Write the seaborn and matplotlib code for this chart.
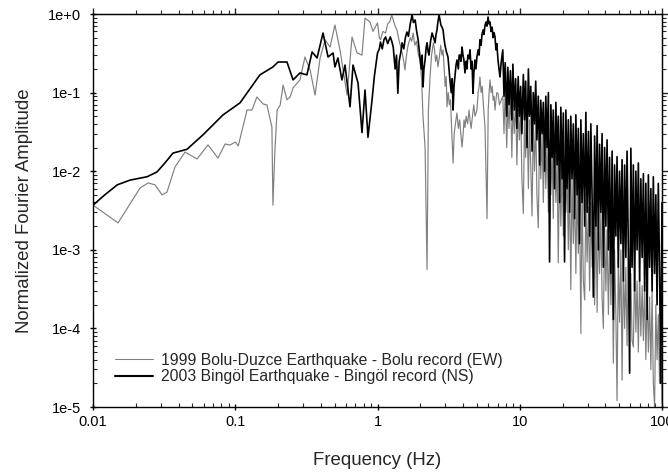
import numpy as np
import pandas as pd
import matplotlib
matplotlib.use("Agg")
import matplotlib.pyplot as plt
from matplotlib.lines import Line2D
from matplotlib.ticker import FixedLocator, FixedFormatter, LogLocator, NullFormatter
import seaborn as sns

bolu_label = "1999 Bolu-Duzce Earthquake - Bolu record (EW)"
bingol_label = "2003 Bingöl Earthquake - Bingöl record (NS)"

# Bolu (EW) below 0.9 Hz
bolu_f1 = [0.01, 0.015, 0.0214, 0.0244, 0.0273, 0.0306, 0.0331, 0.0377, 0.0444, 0.0539,
           0.0643, 0.0756, 0.0848, 0.0919, 0.1, 0.105, 0.121, 0.131, 0.142, 0.157,
           0.167, 0.181, 0.184, 0.19, 0.197, 0.207, 0.217, 0.231, 0.243, 0.255,
           0.285, 0.309, 0.336, 0.364, 0.395, 0.428, 0.464, 0.502, 0.545, 0.611,
           0.662, 0.718, 0.778, 0.817, 0.885]
bolu_a1 = [3.7e-3, 2.2e-3, 6.1e-3, 7.1e-3, 6.7e-3, 5.0e-3, 5.4e-3, 0.0113, 0.0175, 0.0143,
           0.0216, 0.0147, 0.0222, 0.0215, 0.0235, 0.021, 0.060, 0.060, 0.088, 0.0716,
           0.0696, 0.0365, 3.7e-3, 0.0186, 0.06, 0.0695, 0.125, 0.081, 0.088, 0.115,
           0.145, 0.284, 0.194, 0.093, 0.276, 0.47, 0.38, 0.725, 0.348, 0.093,
           0.51, 0.319, 0.30, 0.89, 0.79]
# Bolu (EW) 0.9 - 7.5 Hz
bolu_f2 = [0.93, 1.0, 1.03, 1.05, 1.09, 1.14, 1.18, 1.22, 1.26, 1.3,
           1.33, 1.37, 1.42, 1.46, 1.49, 1.53, 1.56, 1.6, 1.64, 1.7,
           1.74, 1.78, 1.83, 1.88, 1.94, 1.99, 2.04, 2.09, 2.16, 2.23,
           2.28, 2.34, 2.4, 2.47, 2.52, 2.56, 2.61, 2.66, 2.72, 2.78,
           2.84, 2.89, 2.94, 2.99, 3.04, 3.08, 3.14, 3.2, 3.26, 3.33,
           3.40, 3.46, 3.53, 3.62, 3.7, 3.78, 3.85, 3.93, 4.0, 4.06,
           4.12, 4.2, 4.3, 4.4, 4.47, 4.55, 4.65, 4.75, 4.85, 5.0,
           5.1, 5.18, 5.25, 5.35, 5.45, 5.55, 5.7, 5.89, 6.0, 6.09,
           6.18, 6.3, 6.4, 6.5, 6.6, 6.7, 6.8, 6.9, 7.03, 7.2,
           7.4]
bolu_a2 = [0.6, 0.77, 0.5, 0.47, 0.6, 0.573, 0.75, 0.8, 0.97, 0.8,
           0.7, 0.626, 0.45, 0.38, 0.319, 0.25, 0.194, 0.3, 0.40, 0.5,
           0.45, 0.573, 0.4, 0.45, 0.3, 0.26, 0.15, 0.049, 0.02, 5.6e-4,
           0.06, 0.158, 0.3, 0.43, 0.35, 0.25, 0.3, 0.212, 0.28, 0.4,
           0.3, 0.35, 0.2, 0.12, 0.16, 0.066, 0.1, 0.07, 0.081, 0.03,
           0.0127, 0.03, 0.04, 0.055, 0.035, 0.045, 0.03, 0.0203, 0.03, 0.045,
           0.036, 0.05, 0.04, 0.06, 0.045, 0.035, 0.05, 0.07, 0.05, 0.06,
           0.1, 0.12, 0.158, 0.1, 0.12, 0.07, 0.036, 2.5e-3, 0.06, 0.1,
           0.145, 0.1, 0.12, 0.08, 0.09, 0.06, 0.08, 0.1, 0.098, 0.07,
           0.08]

# Bingöl (NS) below 0.95 Hz
bingol_f1 = [0.01, 0.0121, 0.0148, 0.0182, 0.024, 0.0282, 0.032, 0.0365, 0.0458, 0.0593,
             0.082, 0.108, 0.149, 0.184, 0.2, 0.231, 0.255, 0.285, 0.319, 0.347,
             0.376, 0.414, 0.449, 0.487, 0.502, 0.527, 0.562, 0.591, 0.641, 0.673,
             0.73, 0.778, 0.817, 0.857, 0.915]
bingol_a1 = [3.7e-3, 5.0e-3, 6.7e-3, 7.7e-3, 8.5e-3, 9.8e-3, 0.0127, 0.017, 0.019, 0.029,
             0.052, 0.074, 0.168, 0.212, 0.245, 0.245, 0.145, 0.178, 0.168, 0.329,
             0.276, 0.573, 0.284, 0.319, 0.212, 0.276, 0.145, 0.224, 0.066, 0.224,
             0.132, 0.031, 0.108, 0.027, 0.08]
# Bingöl (NS) 0.95 - 7.5 Hz
bingol_f2 = [0.95, 1.0, 1.03, 1.05, 1.08, 1.11, 1.14, 1.18, 1.23, 1.26,
             1.29, 1.33, 1.36, 1.39, 1.42, 1.46, 1.49, 1.53, 1.57, 1.61,
             1.65, 1.70, 1.75, 1.79, 1.84, 1.88, 1.93, 1.96, 1.99, 2.03,
             2.06, 2.09, 2.12, 2.16, 2.2, 2.23, 2.27, 2.30, 2.36, 2.42,
             2.48, 2.54, 2.58, 2.62, 2.66, 2.71, 2.75, 2.79, 2.84, 2.89,
             2.93, 2.98, 3.05, 3.13, 3.18, 3.23, 3.3, 3.35, 3.40, 3.45,
             3.51, 3.56, 3.62, 3.7, 3.75, 3.80, 3.86, 3.93, 3.99, 4.05,
             4.12, 4.2, 4.25, 4.32, 4.4, 4.47, 4.55, 4.62, 4.69, 4.76,
             4.84, 4.92, 5.0, 5.1, 5.18, 5.25, 5.35, 5.43, 5.52, 5.6,
             5.7, 5.79, 5.88, 5.99, 6.08, 6.18, 6.28, 6.39, 6.5, 6.6,
             6.70, 6.8, 6.9, 7.03, 7.15, 7.26, 7.4]
bingol_a2 = [0.16, 0.319, 0.36, 0.44, 0.36, 0.47, 0.51, 0.42, 0.51, 0.45,
             0.38, 0.2, 0.3, 0.098, 0.25, 0.33, 0.43, 0.36, 0.5, 0.59,
             0.52, 0.75, 0.97, 0.78, 0.84, 0.62, 0.47, 0.36, 0.284, 0.2,
             0.3, 0.118, 0.2, 0.26, 0.38, 0.43, 0.33, 0.30, 0.45, 0.573,
             0.5, 0.43, 0.55, 0.626, 0.8, 0.97, 0.83, 0.725, 0.68, 0.626,
             0.5, 0.40, 0.33, 0.284, 0.2, 0.145, 0.1, 0.15, 0.06, 0.12,
             0.168, 0.22, 0.26, 0.2, 0.3, 0.30, 0.25, 0.38, 0.3, 0.26,
             0.178, 0.25, 0.2, 0.30, 0.27, 0.35, 0.2, 0.25, 0.098, 0.18,
             0.26, 0.2, 0.284, 0.35, 0.3, 0.47, 0.4, 0.55, 0.626, 0.55,
             0.72, 0.79, 0.7, 0.916, 0.75, 0.79, 0.6, 0.68, 0.5, 0.58,
             0.51, 0.35, 0.42, 0.26, 0.2, 0.158, 0.24]

# high-frequency part (dense, spiky), same frequency grid for both records
freq_hi = [7.6, 7.75, 7.9, 8.1, 8.25, 8.4, 8.6, 8.8,
           8.95, 9.15, 9.35, 9.55, 9.75, 9.95, 10.15, 10.35,
           10.6, 10.8, 11.0, 11.25, 11.5, 11.7, 11.95, 12.2,
           12.45, 12.7, 12.95, 13.2, 13.5, 13.8, 14.05, 14.35,
           14.65, 14.95, 15.25, 15.55, 15.9, 16.2, 16.55, 16.9,
           17.2, 17.55, 17.95, 18.3, 18.65, 19.05, 19.45, 19.85,
           20.25, 20.65, 21.1, 21.5, 21.95, 22.4, 22.85, 23.3,
           23.8, 24.3, 24.8, 25.3, 25.8, 26.3, 26.9, 27.4,
           28.0, 28.6, 29.15, 29.75, 30.4, 31.0, 31.6, 32.3,
           32.9, 33.6, 34.3, 35.0, 35.7, 36.4, 37.2, 37.9,
           38.7, 39.5, 40.3, 41.1, 42.0, 42.8, 43.7, 44.6,
           45.5, 46.4, 47.4, 48.3, 49.3, 50.3, 51.4, 52.4,
           53.5, 54.6, 55.7, 56.8, 58.0, 59.2, 60.4, 61.6,
           62.9, 64.2, 65.5, 66.8, 68.2, 69.6, 71.0, 72.5,
           74.0, 75.5, 77.0, 78.6, 80.2, 81.8, 83.5, 85.2,
           86.9, 88.7, 90.5, 92.3, 94.2, 96.1, 98.0, 100.0]
bolu_hi_a = [0.09, 0.03, 0.11, 0.02, 0.08, 0.035, 0.1, 0.015,
             0.07, 0.03, 0.085, 0.012, 0.06, 0.025, 0.07, 0.008,
             2.9e-3, 0.05, 0.015, 0.06, 6e-3, 0.045, 0.012, 2.7e-3,
             0.04, 0.01, 0.05, 5e-3, 1.9e-3, 0.035, 8e-3, 0.03,
             4e-3, 0.028, 6e-3, 0.022, 3e-3, 0.025, 5e-3, 0.018,
             2.5e-3, 0.02, 4e-3, 0.015, 6.8e-4, 0.012, 2e-3, 0.014,
             1.5e-3, 9e-3, 3e-3, 0.01, 1e-3, 7e-3, 3.1e-4, 8e-3,
             1.2e-3, 6e-3, 5e-4, 7e-3, 9e-4, 5e-3, 8.6e-5, 6e-3,
             4e-4, 2.3e-4, 4.5e-3, 7e-4, 3.5e-3, 3e-4, 4e-3, 6e-4,
             3e-3, 2e-4, 3.5e-3, 1.6e-4, 2.5e-3, 5e-4, 3e-3, 2.5e-4,
             1e-4, 2e-3, 3e-4, 1.8e-3, 1.5e-4, 1.5e-3, 2e-4, 1.2e-3,
             3.6e-5, 1e-3, 1.5e-4, 1.2e-5, 8e-4, 1.2e-4, 1e-3, 2.2e-5,
             7e-4, 1e-4, 6e-4, 6e-5, 8e-4, 1.2e-4, 5e-4, 7e-5,
             5.8e-5, 6e-4, 9e-5, 4e-4, 5e-5, 5e-4, 8e-5, 3.5e-4,
             7e-5, 4e-4, 4e-5, 3e-4, 5e-5, 2.5e-4, 3e-5, 3e-4,
             2e-5, 1e-5, 2e-4, 4e-5, 1.5e-4, 2e-5, 1e-4, 1.1e-5]
bingol_hi_a = [0.35, 0.09, 0.24, 0.05, 0.21, 0.07, 0.19, 0.045,
               0.23, 0.06, 0.15, 0.035, 0.16, 0.05, 0.12, 0.03,
               0.17, 0.045, 0.14, 0.02, 0.2, 0.05, 0.12, 0.018,
               0.1, 0.04, 0.14, 0.025, 0.09, 0.012, 0.08, 0.03,
               0.075, 0.01, 0.09, 0.02, 0.1, 7e-4, 0.07, 0.015,
               0.06, 6e-3, 0.075, 0.012, 0.05, 4e-3, 0.065, 8e-3,
               0.055, 7e-4, 0.06, 6e-3, 0.045, 3e-3, 0.05, 8e-3,
               0.04, 2.5e-3, 0.052, 5e-3, 0.035, 1.2e-3, 0.045, 4e-3,
               0.03, 2e-3, 0.056, 3e-3, 0.032, 1.5e-3, 0.04, 4e-3,
               2.5e-4, 0.028, 2e-3, 0.038, 1e-3, 0.022, 3e-3, 0.03,
               6e-4, 0.02, 2e-3, 0.025, 1e-3, 0.015, 5e-4, 0.018,
               1.3e-4, 0.012, 1.5e-3, 0.0153, 6e-4, 0.01, 1.2e-3, 0.014,
               4e-4, 0.012, 8e-4, 0.018, 1e-3, 2.7e-5, 0.0196, 6e-4,
               0.012, 3e-4, 0.01, 1e-3, 0.0127, 4e-4, 0.008, 8e-4,
               0.0093, 3e-4, 0.007, 1.3e-4, 0.009, 6e-4, 0.006, 3e-4,
               0.0085, 5e-4, 0.005, 2e-4, 0.007, 6e-4, 2e-5, 0.004]

x_ticks = [0.01, 0.1, 1, 10, 100]
x_tick_labels = ["0.01", "0.1", "1", "10", "100"]
y_ticks = [1e-5, 1e-4, 1e-3, 1e-2, 1e-1, 1e0]
y_tick_labels = ["1e-5", "1e-4", "1e-3", "1e-2", "1e-1", "1e+0"]

sns.set_style("ticks")
plt.rcParams["font.family"] = ["Liberation Sans", "DejaVu Sans"]

bolu = pd.DataFrame({"freq": bolu_f1 + bolu_f2 + freq_hi,
                     "amp": bolu_a1 + bolu_a2 + bolu_hi_a})
bingol = pd.DataFrame({"freq": bingol_f1 + bingol_f2 + freq_hi,
                       "amp": bingol_a1 + bingol_a2 + bingol_hi_a})

fig = plt.figure(figsize=(6.68, 4.75), dpi=100)
ax = fig.add_axes([93 / 668, 1 - 407 / 475, 569 / 668, 393 / 475])
ax.set_xscale("log")
ax.set_yscale("log")

gray = "#808080"
sns.lineplot(data=bolu, x="freq", y="amp", ax=ax, color=gray, linewidth=0.85,
             estimator=None, sort=False, legend=False)
sns.lineplot(data=bingol, x="freq", y="amp", ax=ax, color="black", linewidth=1.2,
             estimator=None, sort=False, legend=False)

ax.set_xlim(0.01, 100)
ax.set_ylim(1e-5, 1)

minor_subs = [2, 3, 4, 5, 6, 7, 8, 9]
ax.xaxis.set_major_locator(FixedLocator(x_ticks))
ax.xaxis.set_major_formatter(FixedFormatter(x_tick_labels))
ax.xaxis.set_minor_locator(LogLocator(base=10, subs=minor_subs, numticks=20))
ax.xaxis.set_minor_formatter(NullFormatter())
ax.yaxis.set_major_locator(FixedLocator(y_ticks))
ax.yaxis.set_major_formatter(FixedFormatter(y_tick_labels))
ax.yaxis.set_minor_locator(LogLocator(base=10, subs=minor_subs, numticks=20))
ax.yaxis.set_minor_formatter(NullFormatter())

for s in ax.spines.values():
    s.set_linewidth(1.0)
    s.set_color("black")

ax.tick_params(which="major", direction="inout", length=5, width=1.0,
               labelsize=10.5, colors="black", top=False, right=False)
ax.tick_params(which="minor", direction="in", length=3, width=0.8,
               top=False, right=False)
ax.tick_params(axis="x", which="major", pad=3)
ax.tick_params(axis="y", which="major", pad=6)

# top and right axes with outward ticks
top = ax.secondary_xaxis("top")
top.xaxis.set_major_locator(FixedLocator(x_ticks))
top.xaxis.set_minor_locator(LogLocator(base=10, subs=minor_subs, numticks=20))
top.xaxis.set_major_formatter(NullFormatter())
top.xaxis.set_minor_formatter(NullFormatter())
top.tick_params(which="major", direction="out", length=4.3, width=1.0)
top.tick_params(which="minor", direction="out", length=3, width=0.8)

right = ax.secondary_yaxis("right")
right.yaxis.set_major_locator(FixedLocator(y_ticks))
right.yaxis.set_minor_locator(LogLocator(base=10, subs=minor_subs, numticks=20))
right.yaxis.set_major_formatter(NullFormatter())
right.yaxis.set_minor_formatter(NullFormatter())
right.tick_params(which="major", direction="out", length=4.3, width=1.0)
right.tick_params(which="minor", direction="out", length=3, width=0.8)

ax.set_xlabel("Frequency (Hz)", fontsize=13.4)
ax.set_ylabel("Normalized Fourier Amplitude", fontsize=13.4)
ax.xaxis.set_label_coords(0.5, -0.115)
ax.yaxis.set_label_coords(-0.105, 0.5)

handles = [Line2D([], [], color=gray, linewidth=0.75),
           Line2D([], [], color="black", linewidth=1.5)]
ax.legend(handles, [bolu_label, bingol_label], loc="lower left",
          bbox_to_anchor=(0.0387, 0.058), frameon=False, fontsize=11.3,
          handlelength=2.4, handletextpad=0.5, labelspacing=0.1,
          borderpad=0, borderaxespad=0)

fig.savefig("out.png", dpi=100)
